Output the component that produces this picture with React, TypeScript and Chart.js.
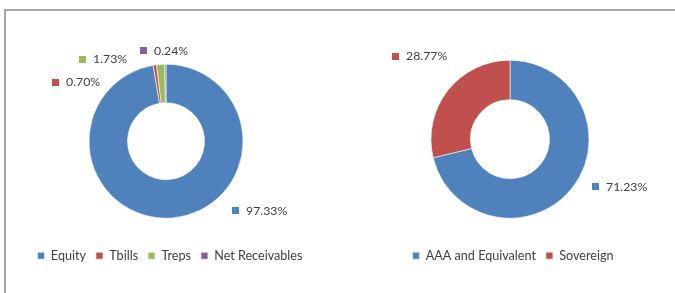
import React, { useEffect, useRef } from "react";
import { Chart, registerables } from "chart.js";

Chart.register(...registerables);

// ---- data ----
const holdingCategories = ["Equity", "Tbills", "Treps", "Net Receivables"];
const holdingValues = [97.33, 0.7, 1.73, 0.24];
const ratingCategories = ["AAA and Equivalent", "Sovereign"];
const ratingValues = [71.23, 28.77];

const holdingColors = ["#4F81BD", "#C0504D", "#9BBB59", "#8064A2"];
const ratingColors = ["#4F81BD", "#C0504D"];

const FONT_FAMILY = "Lato, 'Liberation Sans', sans-serif";
const TEXT_COLOR = "#404040";

const outsideLabels = {
  id: "outsideLabels",
  beforeDraw(chart: any, _args: any, opts: any) {
    const lg = chart.legend;
    if (lg && opts.legendShift && !lg._shifted) {
      lg.left += opts.legendShift;
      lg.right += opts.legendShift;
      lg._shifted = true;
    }
  },
  afterDatasetsDraw(chart: any, _args: any, opts: any) {
    const ctx = chart.ctx;
    const meta = chart.getDatasetMeta(0);
    const ds = chart.data.datasets[0];
    ctx.save();
    ctx.font = `${opts.fontSize}px ${FONT_FAMILY}`;
    ctx.textBaseline = "middle";
    ctx.textAlign = "left";
    meta.data.forEach((arc: any, i: number) => {
      const p = arc.getProps(["x", "y", "startAngle", "endAngle", "outerRadius"], true);
      const a = (p.startAngle + p.endAngle) / 2;
      const off = (opts.offsets && opts.offsets[i]) || [0, 0];
      const x = p.x + Math.cos(a) * p.outerRadius + off[0];
      const y = p.y + Math.sin(a) * p.outerRadius + off[1];
      ctx.fillStyle = ds.backgroundColor[i];
      ctx.fillRect(Math.round(x), Math.round(y - 3.5), 7, 7);
      ctx.fillStyle = TEXT_COLOR;
      ctx.fillText(Number(ds.data[i]).toFixed(2) + "%", Math.round(x) + 14, Math.round(y) + 0.5);
    });
    ctx.restore();
  },
};

type PanelProps = {
  left: number;
  width: number;
  labels: string[];
  values: number[];
  colors: string[];
  radius: number;
  padding: { left: number; right: number; top: number; bottom: number };
  offsets: number[][];
  legendShift: number;
};

function DoughnutPanel(props: PanelProps) {
  const ref = useRef<HTMLCanvasElement | null>(null);
  useEffect(() => {
    if (!ref.current) return;
    const chart = new Chart(ref.current, {
      type: "doughnut",
      data: {
        labels: props.labels,
        datasets: [
          {
            data: props.values,
            backgroundColor: props.colors,
            borderColor: "#ffffff",
            borderWidth: 0.6,
            radius: props.radius,
            cutout: "50%",
          } as any,
        ],
      },
      options: {
        responsive: false,
        animation: false,
        maintainAspectRatio: false,
        layout: { padding: props.padding },
        plugins: {
          tooltip: { enabled: false },
          title: { display: false },
          legend: {
            display: true,
            position: "bottom",
            labels: {
              boxWidth: 7,
              boxHeight: 7,
              padding: 10,
              color: TEXT_COLOR,
              font: { family: FONT_FAMILY, size: 12.6 },
            },
          },
          outsideLabels: { fontSize: 12.3, offsets: props.offsets, legendShift: props.legendShift },
        } as any,
      },
      plugins: [outsideLabels as any],
    });
    return () => chart.destroy();
  }, []);
  return (
    <canvas
      ref={ref}
      width={props.width}
      height={293}
      style={{ position: "absolute", left: props.left, top: 0, width: props.width, height: 293 }}
    />
  );
}

export default function App() {
  useEffect(() => {
    document.body.style.margin = "0";
    document.body.style.background = "#ffffff";
  }, []);
  return (
    <div style={{ position: "absolute", left: 0, top: 0, width: 675, height: 293, overflow: "hidden", background: "#fff" }}>
      <div
        style={{
          position: "absolute",
          left: 4,
          top: 9,
          width: 700,
          height: 300,
          borderTop: "2px solid #a6a6a6",
          borderLeft: "2px solid #a6a6a6",
        }}
      />
      <DoughnutPanel
        left={0}
        width={337}
        labels={holdingCategories}
        values={holdingValues}
        colors={holdingColors}
        radius={77}
        padding={{ left: 0, right: 5, top: 43, bottom: 21 }}
        offsets={[[59.5, -7], [-103, 17], [-82, -5], [-25.5, -13.5]]}
        legendShift={4}
      />
      <DoughnutPanel
        left={337}
        width={338}
        labels={ratingCategories}
        values={ratingValues}
        colors={ratingColors}
        radius={79}
        padding={{ left: 8, right: 0, top: 39, bottom: 21 }}
        offsets={[[20, -1.3], [-56, -34]]}
        legendShift={3}
      />
    </div>
  );
}
